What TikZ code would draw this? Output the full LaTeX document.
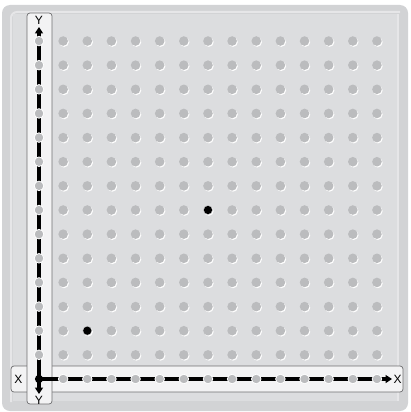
\documentclass[tikz,border=0pt]{standalone}
\usepackage{fontspec}
\setsansfont{Liberation Sans}
\usetikzlibrary{arrows.meta}
\definecolor{boardc}{HTML}{DCDDDF}
\definecolor{rimc}{HTML}{D2D3D5}
\definecolor{rimhi}{HTML}{E6E6E8}
\definecolor{pegc}{HTML}{BBBCBE}
\definecolor{stripc}{HTML}{F3F3F4}
\definecolor{stripl}{HTML}{6E6E70}
\tikzset{
  peg/.style={circle,fill=pegc,inner sep=0pt,minimum size=9.6pt},
  peghi/.style={circle,fill=white,inner sep=0pt,minimum size=9.6pt},
  axpeg/.style={circle,fill=pegc,draw=white,line width=0.8pt,inner sep=0pt,minimum size=9.6pt},
  blackpeg/.style={circle,fill=black,inner sep=0pt,minimum size=8.2pt},
  strip/.style={fill=stripc,draw=stripl,line width=0.7pt,rounded corners=3pt},
  axisline/.style={line width=3.4pt,black},
  axlabel/.style={font=\sffamily\fontsize{12}{12}\selectfont,inner sep=0pt},
  arrowtip/.style={-{Triangle[length=6.5pt,width=8pt]}}
}
\begin{document}
\begin{tikzpicture}[x=1pt,y=-1pt]
\useasboundingbox (0,0) rectangle (410,412);
% board
\fill[rimc,rounded corners=8pt] (2,5) rectangle (408,411);
\draw[rimhi,line width=2pt,rounded corners=6pt] (11,402) -- (11,12) -- (400,12);
\fill[boardc] (13,14) rectangle (399,401);
\draw[rimhi,line width=1.2pt] (398,14) -- (398,401);
% grid pegs
\foreach \i in {1,...,14}{
  \foreach \j in {1,...,14}{
    \node[peghi] at ({39+24.14*\i+0.9},{379-24.14*\j+1.0}) {};
    \node[peg] (p-\i-\j) at ({39+24.14*\i},{379-24.14*\j}) {};
  }
}
% strips
\draw[strip] (11,366) rectangle (403,392);
\draw[strip] (27,13) rectangle (52,404);
% axes
\coordinate (o) at (39,379);
\coordinate (ytop) at (39,27);
\coordinate (ybot) at (39,394);
\coordinate (xend) at (392,379);
\draw[axisline,arrowtip] (o) -- (ytop);
\draw[axisline,arrowtip] (o) -- (ybot);
\draw[axisline,arrowtip] (o) -- (xend);
\foreach \k in {1,...,14}{
  \node[axpeg] (ya-\k) at (39,{379-24.14*\k}) {};
  \node[axpeg] (xa-\k) at ({39+24.14*\k},379) {};
}
\node[blackpeg] (origin) at (o) {};
\node[blackpeg] (b1) at (87.3,330.7) {};
\node[blackpeg] (b2) at (208,210) {};
% labels
\node[axlabel] (ylt) at (39,20) {Y};
\node[axlabel] (ylb) at (39,400.5) {Y};
\node[axlabel] (xlr) at (397.5,379.5) {X};
\node[axlabel] (xll) at (18.5,379.5) {X};
\end{tikzpicture}
\end{document}
